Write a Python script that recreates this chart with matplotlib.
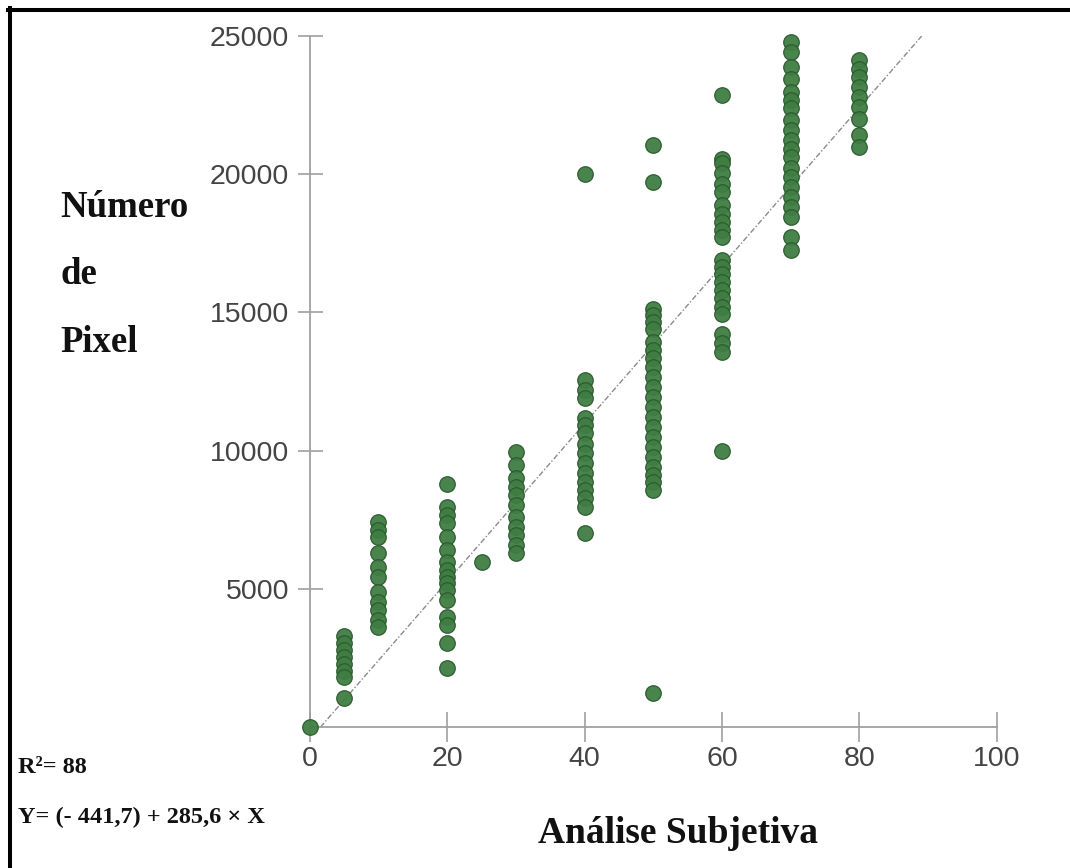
import matplotlib.pyplot as plt
from matplotlib.lines import Line2D

# Analise subjetiva x numero de pixel -- readings per score level
y_0 = [0]
y_5 = [3300, 3050, 2800, 2550, 2300, 2050, 1800, 1050]
y_10 = [7430, 7130, 6890, 6290, 5800, 5440, 4900, 4540, 4240, 3880, 3630]
y_20 = [8790, 7970, 7670, 7370, 6890, 6410, 5980, 5680, 5440, 5200,
        4960, 4600, 4000, 3700, 3030, 2130]
y_25 = [5980]
y_30 = [9960, 9480, 9000, 8700, 8400, 8030, 7610, 7250, 6950, 6590, 6290]
y_40 = [20020, 12550, 12190, 11890, 11170, 10930, 10630, 10260, 9900,
        9540, 9180, 8880, 8580, 8280, 7970, 7010]
y_50 = [21050, 19720, 15140, 14900, 14660, 14420, 13940, 13640, 13340,
        13030, 12670, 12310, 11950, 11590, 11230, 10860, 10500, 10140,
        9780, 9420, 9120, 8880, 8580, 1230]
y_60 = [22860, 20550, 20390, 20030, 19660, 19360, 18880, 18580, 18280,
        17980, 17730, 16890, 16650, 16410, 16110, 15810, 15510, 15200,
        14960, 14240, 13880, 13580, 10000]
y_70 = [24780, 24420, 23880, 23460, 22980, 22680, 22380, 21950, 21590,
        21230, 20930, 20630, 20210, 19900, 19540, 19180, 18820, 18460,
        17730, 17250]
y_80 = [24120, 23820, 23520, 23160, 22800, 22430, 22010, 21410, 20990]

levels = [0, 5, 10, 20, 25, 30, 40, 50, 60, 70, 80]
groups = [y_0, y_5, y_10, y_20, y_25, y_30, y_40, y_50, y_60, y_70, y_80]

intercept = -441.7
slope = 285.6

x_ticks = [0, 20, 40, 60, 80, 100]
y_ticks = [5000, 10000, 15000, 20000, 25000]

xs = [lv for lv, g in zip(levels, groups) for _ in g]
ys = [v for g in groups for v in g]

fig = plt.figure(figsize=(10.7, 8.68), dpi=100)
ax = fig.add_axes([0.2895, 0.1622, 0.642, 0.7963])

# regression line, from y=0 up to the top of the axis
x0 = -intercept / slope
x1 = (25000 - intercept) / slope
ax.plot([x0, x1], [intercept + slope * x0, intercept + slope * x1],
        color="#8a8a8a", lw=1.0, ls=(0, (4, 1.5, 1, 1.5)), zorder=1)

ax.scatter(xs, ys, s=125, facecolor="#3f7d43", edgecolor="#2b5a2e",
           linewidth=0.9, alpha=0.95, zorder=3, clip_on=False)

ax.set_xlim(0, 100)
ax.set_ylim(0, 25000)
ax.set_xticks(x_ticks)
ax.set_yticks(y_ticks)
ax.set_yticklabels([str(t) for t in y_ticks])

for side in ["top", "right"]:
    ax.spines[side].set_visible(False)
for side in ["left", "bottom"]:
    ax.spines[side].set_color("#a0a0a0")
    ax.spines[side].set_linewidth(1.3)

ax.tick_params(axis="both", direction="inout", color="#a0a0a0", width=1.2,
               labelcolor="#444444", labelsize=20.5)
ax.tick_params(axis="x", length=21, pad=3)
ax.tick_params(axis="y", length=18, pad=6)
for lab in ax.get_xticklabels() + ax.get_yticklabels():
    lab.set_family(["Liberation Sans", "DejaVu Sans"])

serif = ["Liberation Serif", "DejaVu Serif"]
W, H = 1070, 868

# stacked y label
for i, word in enumerate(["Número", "de", "Pixel"]):
    fig.text(60 / W, 1 - (217 + i * 67.5) / H, word, family=serif,
             weight="bold", fontsize=26.5, color="#111111", va="baseline")

fig.text(678 / W, 1 - 843 / H, "Análise Subjetiva", family=serif,
         weight="bold", fontsize=27, color="#111111", ha="center",
         va="baseline")

fig.text(18 / W, 1 - 773 / H, "R²= 88", family=serif,
         weight="bold", fontsize=17.5, color="#111111", va="baseline")
fig.text(18 / W, 1 - 823 / H, "Y= (- 441,7) + 285,6 × X", family=serif,
         weight="bold", fontsize=17.5, color="#111111", va="baseline")

# black frame on the left and top edges
fig.add_artist(Line2D([10 / W, 10 / W], [0, 1 - 8 / H], color="black",
                      lw=2.9, transform=fig.transFigure))
fig.add_artist(Line2D([8 / W, 1], [1 - 10 / H, 1 - 10 / H], color="black",
                      lw=2.9, transform=fig.transFigure))

fig.savefig("out.png", dpi=100)
